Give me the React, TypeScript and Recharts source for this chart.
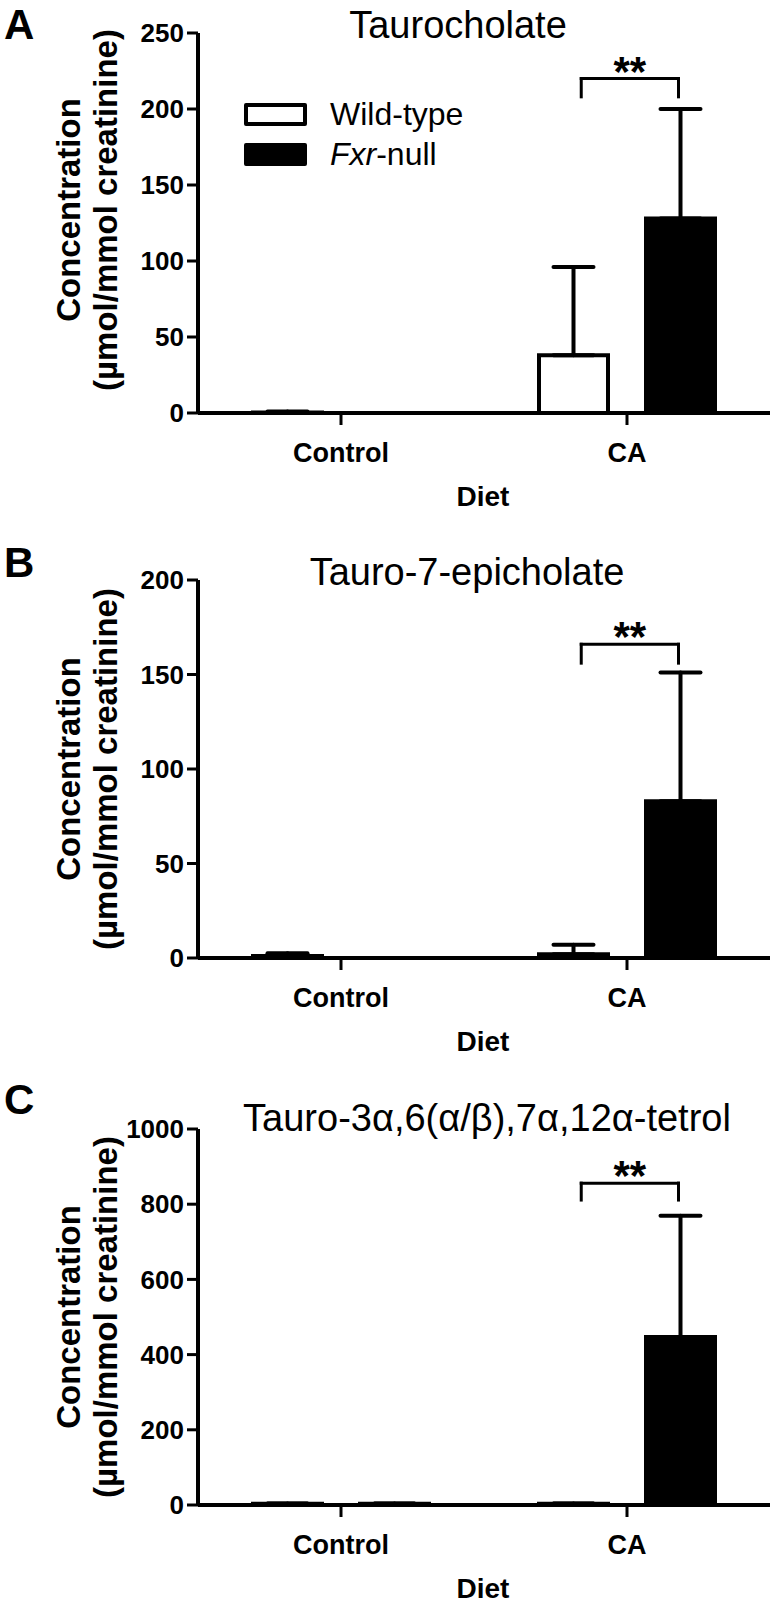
import { BarChart, Bar, XAxis, YAxis, ErrorBar, Legend, ReferenceLine } from 'recharts'

const FONT = "'Liberation Sans', Arial, Helvetica, sans-serif"

const diets = ['Control', 'CA']
const groups = ['Wild-type', 'Fxr-null']

// A: Taurocholate (mean, upper SD)
const tcWild = [0.4, 38]
const tcWildSd = [0.6, 58]
const tcFxr = [0, 128]
const tcFxrSd = [0, 72]
const tcTicks = [0, 50, 100, 150, 200, 250]
const tcBracket = [208, 220]

// B: Tauro-7-epicholate
const t7Wild = [1, 2]
const t7WildSd = [1.5, 5]
const t7Fxr = [0, 83]
const t7FxrSd = [0, 68]
const t7Ticks = [0, 50, 100, 150, 200]
const t7Bracket = [156, 166]

// C: Tauro-3a,6(a/b),7a,12a-tetrol
const ttWild = [3, 3]
const ttWildSd = [1, 1]
const ttFxr = [3, 447]
const ttFxrSd = [1, 322]
const ttTicks = [0, 200, 400, 600, 800, 1000]
const ttBracket = [811, 856]

// bracket ends, in category units on a hidden 0..2 axis
const bracketX = [1.34, 1.68]

const rows = (wild: number[], wildSd: number[], fxr: number[], fxrSd: number[]) =>
  diets.map((diet, i) => ({
    diet,
    pos: i + 0.5,
    wild: wild[i],
    fxr: fxr[i],
    wildErr: [0, wildSd[i]],
    fxrErr: [0, fxrSd[i]],
  }))

const groupLabel = (name: string) =>
  name === groups[1] ? (
    <>
      <i>Fxr</i>-null
    </>
  ) : (
    name
  )

const renderLegend = ({ payload }: any) => {
  const items = [...(payload ?? [])].sort((a: any, b: any) => groups.indexOf(a.value) - groups.indexOf(b.value))
  return (
    <div style={{ fontFamily: FONT }}>
      {items.map((p: any) => (
        <div key={p.value} style={{ display: 'flex', alignItems: 'center', height: 40 }}>
          <span
            style={{
              display: 'inline-block',
              width: 63,
              height: 23,
              boxSizing: 'border-box',
              border: '4px solid #000',
              borderRadius: 2,
              background: p.value === groups[0] ? '#fff' : '#000',
            }}
          />
          <span style={{ marginLeft: 23, fontSize: 32, lineHeight: '40px', color: '#000' }}>
            {groupLabel(p.value)}
          </span>
        </div>
      ))}
    </div>
  )
}

const yLabel = (shift: number) => (props: any) => {
  const vb = props.viewBox ?? { x: 0, y: 33, width: 198, height: 378 }
  const cy = vb.y + vb.height / 2 + shift
  const x1 = (vb.x ?? 0) + 80
  const x2 = (vb.x ?? 0) + 117
  return (
    <g>
      <text x={x1} y={cy} transform={`rotate(-90 ${x1} ${cy})`} textAnchor="middle" fontSize={33} fontWeight={700} fill="#000">
        Concentration
      </text>
      <text x={x2} y={cy} transform={`rotate(-90 ${x2} ${cy})`} textAnchor="middle" fontSize={33} fontWeight={700} fill="#000">
        (µmol/mmol creatinine)
      </text>
    </g>
  )
}

const renderXLabel = (props: any) => {
  const vb = props.viewBox ?? { x: 198, y: 413, width: 572, height: 100 }
  return (
    <text x={vb.x + vb.width / 2 - 1} y={vb.y + 93} textAnchor="middle" fontSize={28} fontWeight={700} fill="#000">
      Diet
    </text>
  )
}

type PanelProps = {
  letter: string
  title: string
  top: number
  height: number
  titleX: number
  titleBase: number
  letterBase: number
  labelShift: number
  data: any[]
  ticks: number[]
  bracket: number[]
  legend?: boolean
}

function Panel({ letter, title, top, height, titleX, titleBase, letterBase, labelShift, data, ticks, bracket, legend }: PanelProps) {
  const axisStroke = { stroke: '#000', strokeWidth: 4 }
  const tickStroke = { stroke: '#000', strokeWidth: 3 }
  const bracketLine = { stroke: '#000', strokeWidth: 3, strokeLinecap: 'square' as const, ifOverflow: 'visible' as const }
  return (
    <div style={{ position: 'absolute', top, left: 0, width: 775, height }}>
      <BarChart
        width={775}
        height={height}
        data={data}
        margin={{ top: 33, right: 5, bottom: 0, left: 0 }}
        barSize={69}
        barGap={38}
      >
        <XAxis
          xAxisId="cat"
          dataKey="diet"
          height={100}
          interval={0}
          tickSize={12}
          tickMargin={18}
          axisLine={axisStroke}
          tickLine={tickStroke}
          tick={{ fill: '#000', fontSize: 27, fontWeight: 700 }}
          label={renderXLabel}
        />
        <XAxis xAxisId="num" dataKey="pos" type="number" domain={[0, 2]} allowDataOverflow hide />
        <YAxis
          width={198}
          domain={[ticks[0], ticks[ticks.length - 1]]}
          ticks={ticks}
          interval={0}
          tickSize={11}
          tickMargin={3}
          axisLine={axisStroke}
          tickLine={tickStroke}
          tick={{ fill: '#000', fontSize: 26, fontWeight: 700 }}
          label={yLabel(labelShift)}
        />
        {legend && (
          <Legend
            layout="vertical"
            align="center"
            verticalAlign="middle"
            wrapperStyle={{ top: 94, left: 244, width: 300 }}
            content={renderLegend}
          />
        )}
        <Bar xAxisId="cat" dataKey="wild" name={groups[0]} fill="#fff" stroke="#000" strokeWidth={4} isAnimationActive={false}>
          <ErrorBar dataKey="wildErr" direction="y" width={20} stroke="#000" strokeWidth={4} strokeLinecap="round" isAnimationActive={false} />
        </Bar>
        <Bar xAxisId="cat" dataKey="fxr" name={groups[1]} fill="#000" stroke="#000" strokeWidth={4} isAnimationActive={false}>
          <ErrorBar dataKey="fxrErr" direction="y" width={20} stroke="#000" strokeWidth={4} strokeLinecap="round" isAnimationActive={false} />
        </Bar>
        <ReferenceLine
          xAxisId="num"
          segment={[{ x: bracketX[0], y: bracket[0] }, { x: bracketX[0], y: bracket[1] }]}
          {...bracketLine}
        />
        <ReferenceLine
          xAxisId="num"
          segment={[{ x: bracketX[0], y: bracket[1] }, { x: bracketX[1], y: bracket[1] }]}
          {...bracketLine}
          label={{ value: '**', position: 'top', offset: -7, fontSize: 42, fontWeight: 700, fill: '#000' }}
        />
        <ReferenceLine
          xAxisId="num"
          segment={[{ x: bracketX[1], y: bracket[1] }, { x: bracketX[1], y: bracket[0] }]}
          {...bracketLine}
        />
      </BarChart>
      <div
        style={{
          position: 'absolute',
          left: 4,
          top: letterBase - 36,
          fontSize: 42,
          lineHeight: '42px',
          fontWeight: 700,
          color: '#000',
        }}
      >
        {letter}
      </div>
      <div
        style={{
          position: 'absolute',
          left: titleX - 300,
          width: 600,
          textAlign: 'center',
          top: titleBase - 32,
          fontSize: 38,
          lineHeight: '38px',
          color: '#000',
          whiteSpace: 'nowrap',
        }}
      >
        {title}
      </div>
    </div>
  )
}

export default function App() {
  return (
    <div style={{ position: 'relative', width: 775, height: 1607, background: '#fff', fontFamily: FONT }}>
      <style>{'body{margin:0;background:#fff}'}</style>
      <Panel
        letter="A"
        title="Taurocholate"
        top={0}
        height={513}
        titleX={458}
        titleBase={38}
        letterBase={40}
        labelShift={-13}
        data={rows(tcWild, tcWildSd, tcFxr, tcFxrSd)}
        ticks={tcTicks}
        bracket={tcBracket}
        legend
      />
      <Panel
        letter="B"
        title="Tauro-7-epicholate"
        top={547}
        height={511}
        titleX={467}
        titleBase={38}
        letterBase={31}
        labelShift={0}
        data={rows(t7Wild, t7WildSd, t7Fxr, t7FxrSd)}
        ticks={t7Ticks}
        bracket={t7Bracket}
      />
      <Panel
        letter="C"
        title="Tauro-3α,6(α/β),7α,12α-tetrol"
        top={1096}
        height={509}
        titleX={487}
        titleBase={35}
        letterBase={19}
        labelShift={0}
        data={rows(ttWild, ttWildSd, ttFxr, ttFxrSd)}
        ticks={ttTicks}
        bracket={ttBracket}
      />
    </div>
  )
}
